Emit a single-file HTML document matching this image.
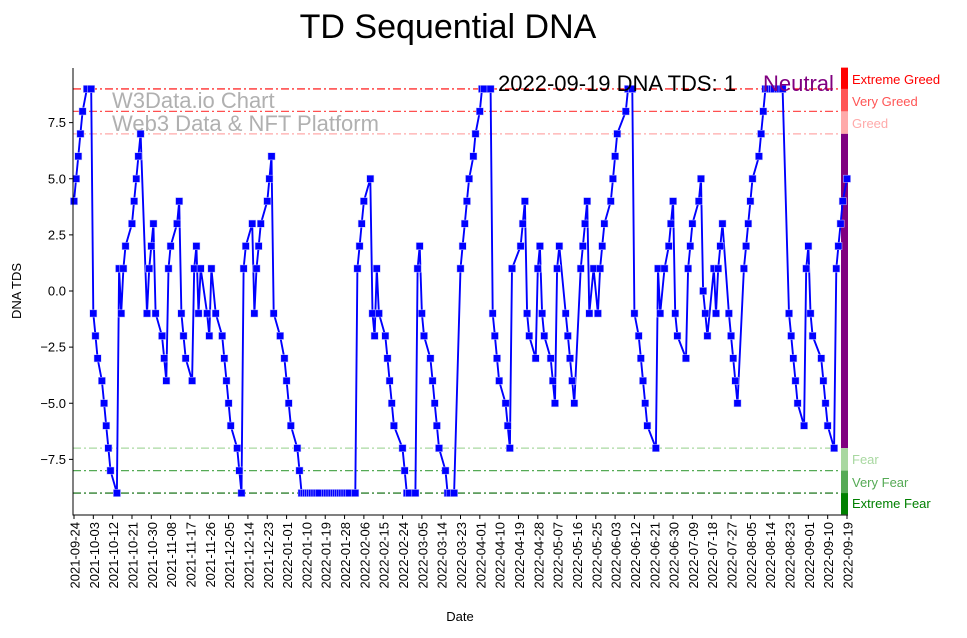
<!DOCTYPE html>
<html><head><meta charset="utf-8"><style>
body{margin:0;background:#fff;}
svg text{font-family:"Liberation Sans","DejaVu Sans",sans-serif;}
</style></head><body>
<svg id="chart" width="967" height="633" viewBox="0 0 967 633" xmlns="http://www.w3.org/2000/svg">
<rect width="967" height="633" fill="#fff"/>
<text x="448" y="38" font-size="34" text-anchor="middle">TD Sequential DNA</text>
<g id="bands"></g>
<g id="grid"></g>
<text x="112" y="108" font-size="22" fill="#b0b0b0">W3Data.io Chart</text>
<text x="112" y="131" font-size="22" fill="#b0b0b0">Web3 Data &amp; NFT Platform</text>
<g id="series"></g>
<g id="axes"></g>
<text x="498" y="91" font-size="22">2022-09-19 DNA TDS: 1</text>
<text x="763" y="91" font-size="22" fill="#800080">Neutral</text>
<text transform="translate(21,291) rotate(-90)" font-size="13" text-anchor="middle">DNA TDS</text>
<text x="460" y="621" font-size="13" text-anchor="middle">Date</text>
</svg>
<script>
const dayIndex=[0,1,2,3,4,6,8,9,10,11,13,14,15,16,17,20,21,22,23,24,27,28,29,30,31,34,35,36,37,38,41,42,43,44,45,48,49,50,51,52,55,56,57,58,59,62,63,64,66,69,70,71,72,73,76,77,78,79,80,83,84,85,86,87,90,91,92,93,96,98,99,100,101,104,105,106,107,108,109,110,111,112,113,114,117,118,119,120,121,122,123,124,125,126,127,128,131,132,133,134,135,138,139,140,141,142,145,146,147,148,149,153,154,155,156,159,160,161,162,163,166,167,168,169,170,173,174,175,177,180,181,182,183,184,186,187,189,190,191,194,195,196,197,198,201,202,203,204,208,209,210,211,212,215,216,217,218,219,222,223,224,225,226,229,230,231,232,233,236,237,238,239,240,242,244,245,246,247,250,251,252,253,257,258,260,261,263,264,265,266,267,271,272,273,275,277,278,279,280,281,285,286,287,288,291,292,293,294,295,298,299,300,301,302,305,306,307,308,309,312,313,314,315,316,319,320,321,322,323,324,325,326,328,329,330,333,334,335,336,337,340,341,342,343,344,348,349,350,351,354,355,356,357,358,360];
const tdsValues=[4,5,6,7,8,9,9,-1,-2,-3,-4,-5,-6,-7,-8,-9,1,-1,1,2,3,4,5,6,7,-1,1,2,3,-1,-2,-3,-4,1,2,3,4,-1,-2,-3,-4,1,2,-1,1,-1,-2,1,-1,-2,-3,-4,-5,-6,-7,-8,-9,1,2,3,-1,1,2,3,4,5,6,-1,-2,-3,-4,-5,-6,-7,-8,-9,-9,-9,-9,-9,-9,-9,-9,-9,-9,-9,-9,-9,-9,-9,-9,-9,-9,-9,-9,-9,-9,1,2,3,4,5,-1,-2,1,-1,-2,-3,-4,-5,-6,-7,-8,-9,-9,-9,1,2,-1,-2,-3,-4,-5,-6,-7,-8,-9,-9,-9,1,2,3,4,5,6,7,8,9,9,9,-1,-2,-3,-4,-5,-6,-7,1,2,3,4,-1,-2,-3,1,2,-1,-2,-3,-4,-5,1,2,-1,-2,-3,-4,-5,1,2,3,4,-1,1,-1,1,2,3,4,5,6,7,8,9,9,-1,-2,-3,-4,-5,-6,-7,1,-1,1,2,3,4,-1,-2,-3,1,2,3,4,5,0,-1,-2,1,-1,1,2,3,-1,-2,-3,-4,-5,1,2,3,4,5,6,7,8,9,9,9,9,9,9,9,9,-1,-2,-3,-4,-5,-6,1,2,-1,-2,-3,-4,-5,-6,-7,1,2,3,4,5,6,-1,1];
const yTicks=[-7.5,-5,-2.5,0,2.5,5,7.5];
const thresholdLevels=[9,8,7,-7,-8,-9];
const thresholdColors=["#ff0000","#ff5050","#ffaaaa","#a8d8a0","#55aa55","#006400"];
const bandLabels=["Extreme Greed","Very Greed","Greed","Fear","Very Fear","Extreme Fear"];
const startDate="2021-09-24", tickStepDays=9, totalDays=360;

const NS="http://www.w3.org/2000/svg";
const X0=74, X1=847, Y0=291, YS=22.45;
const xs=d=>X0+(X1-X0)*d/totalDays;
const ys=v=>Y0-YS*v;
function mk(tag,attrs,parent){const e=document.createElementNS(NS,tag);for(const k in attrs)e.setAttribute(k,attrs[k]);parent.appendChild(e);return e;}
const bands=document.getElementById('bands'),grid=document.getElementById('grid'),series=document.getElementById('series'),axes=document.getElementById('axes');

const bandDefs=[[9.95,9,"#ff0000"],[9,8,"#ff5555"],[8,7,"#ffaaaa"],[7,-7,"#800080"],[-7,-8,"#a8d8a0"],[-8,-9,"#55aa55"],[-9,-9.95,"#008000"]];
bandDefs.forEach(b=>{
  const r=mk('rect',{x:841,y:ys(b[0]),width:7,height:ys(b[1])-ys(b[0]),fill:b[2]},bands);
  
  
});
const labelColors=["#ff0000","#ff5555","#ffaaaa","#a8d8a0","#55aa55","#008000"];
const labelY=[79,101,123,459,482,503];
bandLabels.forEach((t,i)=>{
  const tx=mk('text',{x:852,y:labelY[i]+5,'font-size':13,fill:labelColors[i]},bands);
  tx.textContent=t;
  
  
});
thresholdLevels.forEach((lv,i)=>{
  const l=mk('line',{x1:73,x2:841,y1:ys(lv),y2:ys(lv),stroke:thresholdColors[i],'stroke-width':1.2,'stroke-dasharray':'8,3,2,3'},grid);
  
  
});

const pts=dayIndex.map((d,i)=>xs(d).toFixed(1)+','+ys(tdsValues[i]).toFixed(1)).join(' ');
const pl=mk('polyline',{points:pts,fill:'none',stroke:'#0000ff','stroke-width':1.9},series);


dayIndex.forEach((d,i)=>{
  const m=mk('rect',{x:xs(d)-3.6,y:ys(tdsValues[i])-3.6,width:7.2,height:7.2,fill:'#0000ff',stroke:'#c8c8ff','stroke-width':0.5},series);
  
  
});

const ax=mk('path',{d:'M73,68V515H848',fill:'none',stroke:'#000','stroke-width':1},axes);


yTicks.forEach(v=>{
  const t=mk('line',{x1:69,x2:73,y1:ys(v),y2:ys(v),stroke:'#000'},axes);
  
  
  const lb=mk('text',{x:66,y:ys(v)+4.5,'font-size':13,'text-anchor':'end'},axes);
  lb.textContent=v.toFixed(1).replace('-','−');
  
  
});
const sd=new Date(startDate+'T00:00:00Z');
for(let d=0;d<=totalDays;d+=tickStepDays){
  const dt=new Date(sd.getTime()+d*86400000);
  const s=dt.toISOString().slice(0,10);
  const x=xs(d);
  const t=mk('line',{x1:x,x2:x,y1:515,y2:519,stroke:'#000'},axes);
  
  
  const lb=mk('text',{transform:`translate(${x+5.5},522) rotate(-90)`,'font-size':13,'text-anchor':'end'},axes);
  lb.textContent=s;
  
  
}
</script>
</body></html>
